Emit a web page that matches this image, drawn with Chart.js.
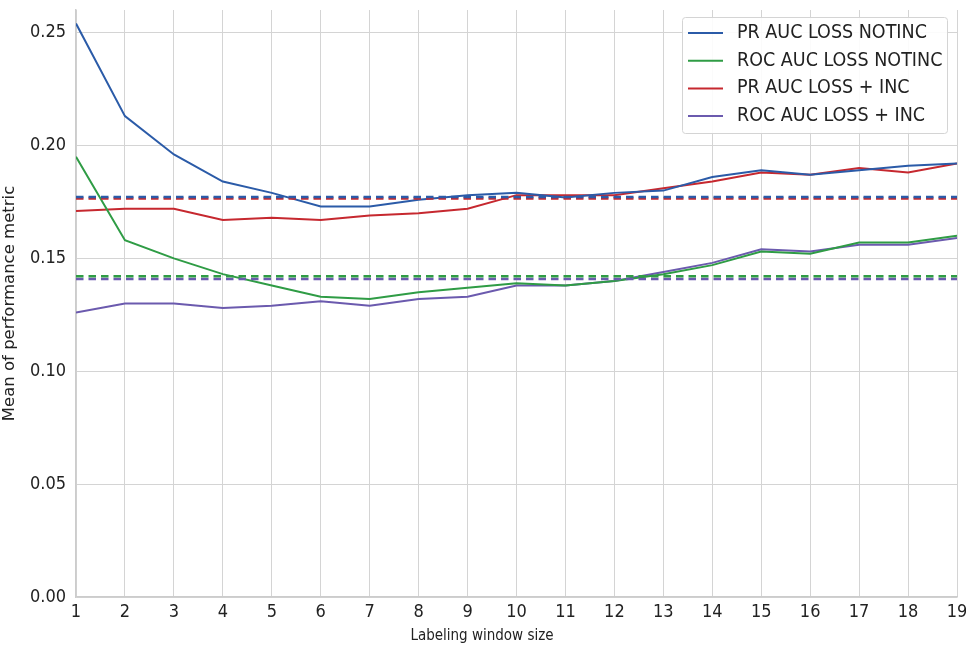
<!DOCTYPE html>
<html>
<head>
<meta charset="utf-8">
<script src="https://cdn.jsdelivr.net/npm/chart.js@4/dist/chart.umd.min.js"></script>
<style>
  html, body { margin: 0; padding: 0; background: #fff; }
  #wrap { width: 966px; height: 646px; position: relative; }
</style>
</head>
<body>
<div id="wrap"><canvas id="chart"></canvas></div>
<script>
// Labeling window sizes (x axis)
const windowSizes = [1, 2, 3, 4, 5, 6, 7, 8, 9, 10, 11, 12, 13, 14, 15, 16, 17, 18, 19];

// Series values
const prAucNotinc  = [0.254, 0.213, 0.196, 0.184, 0.179, 0.173, 0.173, 0.176, 0.178, 0.179, 0.177, 0.179, 0.180, 0.186, 0.189, 0.187, 0.189, 0.191, 0.192];
const rocAucNotinc = [0.195, 0.158, 0.150, 0.143, 0.138, 0.133, 0.132, 0.135, 0.137, 0.139, 0.138, 0.140, 0.143, 0.147, 0.153, 0.152, 0.157, 0.157, 0.160];
const prAucInc     = [0.171, 0.172, 0.172, 0.167, 0.168, 0.167, 0.169, 0.170, 0.172, 0.178, 0.178, 0.178, 0.181, 0.184, 0.188, 0.187, 0.190, 0.188, 0.192];
const rocAucInc    = [0.126, 0.130, 0.130, 0.128, 0.129, 0.131, 0.129, 0.132, 0.133, 0.138, 0.138, 0.140, 0.144, 0.148, 0.154, 0.153, 0.156, 0.156, 0.159];

// Horizontal dashed reference levels (same order as the series)
const seriesNames = ['PR AUC LOSS NOTINC', 'ROC AUC LOSS NOTINC', 'PR AUC LOSS + INC', 'ROC AUC LOSS + INC'];
const baselines = [0.1772, 0.1421, 0.1765, 0.1409];

const yTicks = [0, 0.05, 0.10, 0.15, 0.20, 0.25];

const colors = ['#2b5ba8', '#2f9c45', '#c6282f', '#6b5aae'];
const FONT = "'DejaVu Sans Condensed', 'DejaVu Sans', sans-serif";

const seriesData = [prAucNotinc, rocAucNotinc, prAucInc, rocAucInc];

const datasets = [];
seriesData.forEach((vals, i) => {
    datasets.push({
        label: seriesNames[i],
        data: vals.map((v, j) => ({ x: windowSizes[j], y: v })),
        borderColor: colors[i],
        backgroundColor: colors[i],
        borderWidth: 2,
        pointRadius: 0,
        tension: 0,
        order: 1
    });
});
// dashed baselines, drawn after the curves
baselines.forEach((b, i) => {
    datasets.push({
        label: seriesNames[i] + ' (baseline)',
        data: [{ x: windowSizes[0], y: b }, { x: windowSizes[windowSizes.length - 1], y: b }],
        borderColor: colors[i],
        borderWidth: 2.5,
        borderDash: [7.5, 5],
        pointRadius: 0,
        order: 0
    });
});

// legend box in the upper right corner + x axis title, matplotlib style
const boxLegend = {
    id: 'boxLegend',
    afterDraw(chart) {
        const ctx = chart.ctx;
        const area = chart.chartArea;
        const right = area.right - 10, top = area.top + 7;
        const w = 265, h = 116, left = right - w;
        ctx.save();
        ctx.fillStyle = 'rgba(255,255,255,0.9)';
        ctx.strokeStyle = '#d4d4d4';
        ctx.lineWidth = 1;
        ctx.beginPath();
        ctx.roundRect(left + 0.5, top + 0.5, w, h, 3);
        ctx.fill();
        ctx.stroke();
        ctx.font = "19.5px " + FONT;
        ctx.textBaseline = 'middle';
        ctx.fillStyle = '#222';
        seriesNames.forEach((name, i) => {
            const y = top + 16 + i * 27.7;
            ctx.strokeStyle = colors[i];
            ctx.lineWidth = 2;
            ctx.beginPath();
            ctx.moveTo(left + 6, y);
            ctx.lineTo(left + 41, y);
            ctx.stroke();
            ctx.fillText(name, left + 55, y);
        });
        // x axis title
        ctx.font = "15px " + FONT;
        ctx.textAlign = 'center';
        ctx.textBaseline = 'alphabetic';
        ctx.fillText('Labeling window size', 482, 640);
        ctx.restore();
    }
};

new Chart(document.getElementById('chart').getContext('2d'), {
    type: 'line',
    data: { datasets },
    plugins: [boxLegend],
    options: {
        responsive: true,
        maintainAspectRatio: false,
        animation: false,
        layout: { padding: { top: 10, right: 0, left: 0, bottom: 0 } },
        plugins: {
            legend: { display: false },
            tooltip: { enabled: false }
        },
        scales: {
            x: {
                type: 'linear',
                min: 1,
                max: 19,
                ticks: {
                    stepSize: 1,
                    font: { family: FONT, size: 18 },
                    color: '#222',
                    padding: 5
                },
                grid: { color: '#d4d4d4', drawTicks: false },
                border: { color: '#cccccc', width: 1.5 },
                afterFit: scale => {
                    scale.height = 49;
                    scale.paddingRight = 9;
                    scale.paddingLeft = 0;
                }
            },
            y: {
                min: 0,
                max: 0.26,
                afterBuildTicks: scale => { scale.ticks = yTicks.map(v => ({ value: v })); },
                ticks: {
                    font: { family: FONT, size: 18 },
                    color: '#222',
                    padding: 10,
                    callback: v => v.toFixed(2)
                },
                grid: { color: '#d4d4d4', drawTicks: false },
                border: { color: '#cccccc', width: 1.5 },
                title: {
                    display: true,
                    text: 'Mean of performance metric',
                    font: { family: "'DejaVu Sans', sans-serif", size: 16.5 },
                    color: '#222',
                    padding: { top: 0, bottom: 0 }
                },
                afterFit: scale => {
                    scale.width = 76;
                    scale.paddingTop = 0;
                    scale.paddingBottom = 0;
                }
            }
        }
    }
});
</script>
</body>
</html>
